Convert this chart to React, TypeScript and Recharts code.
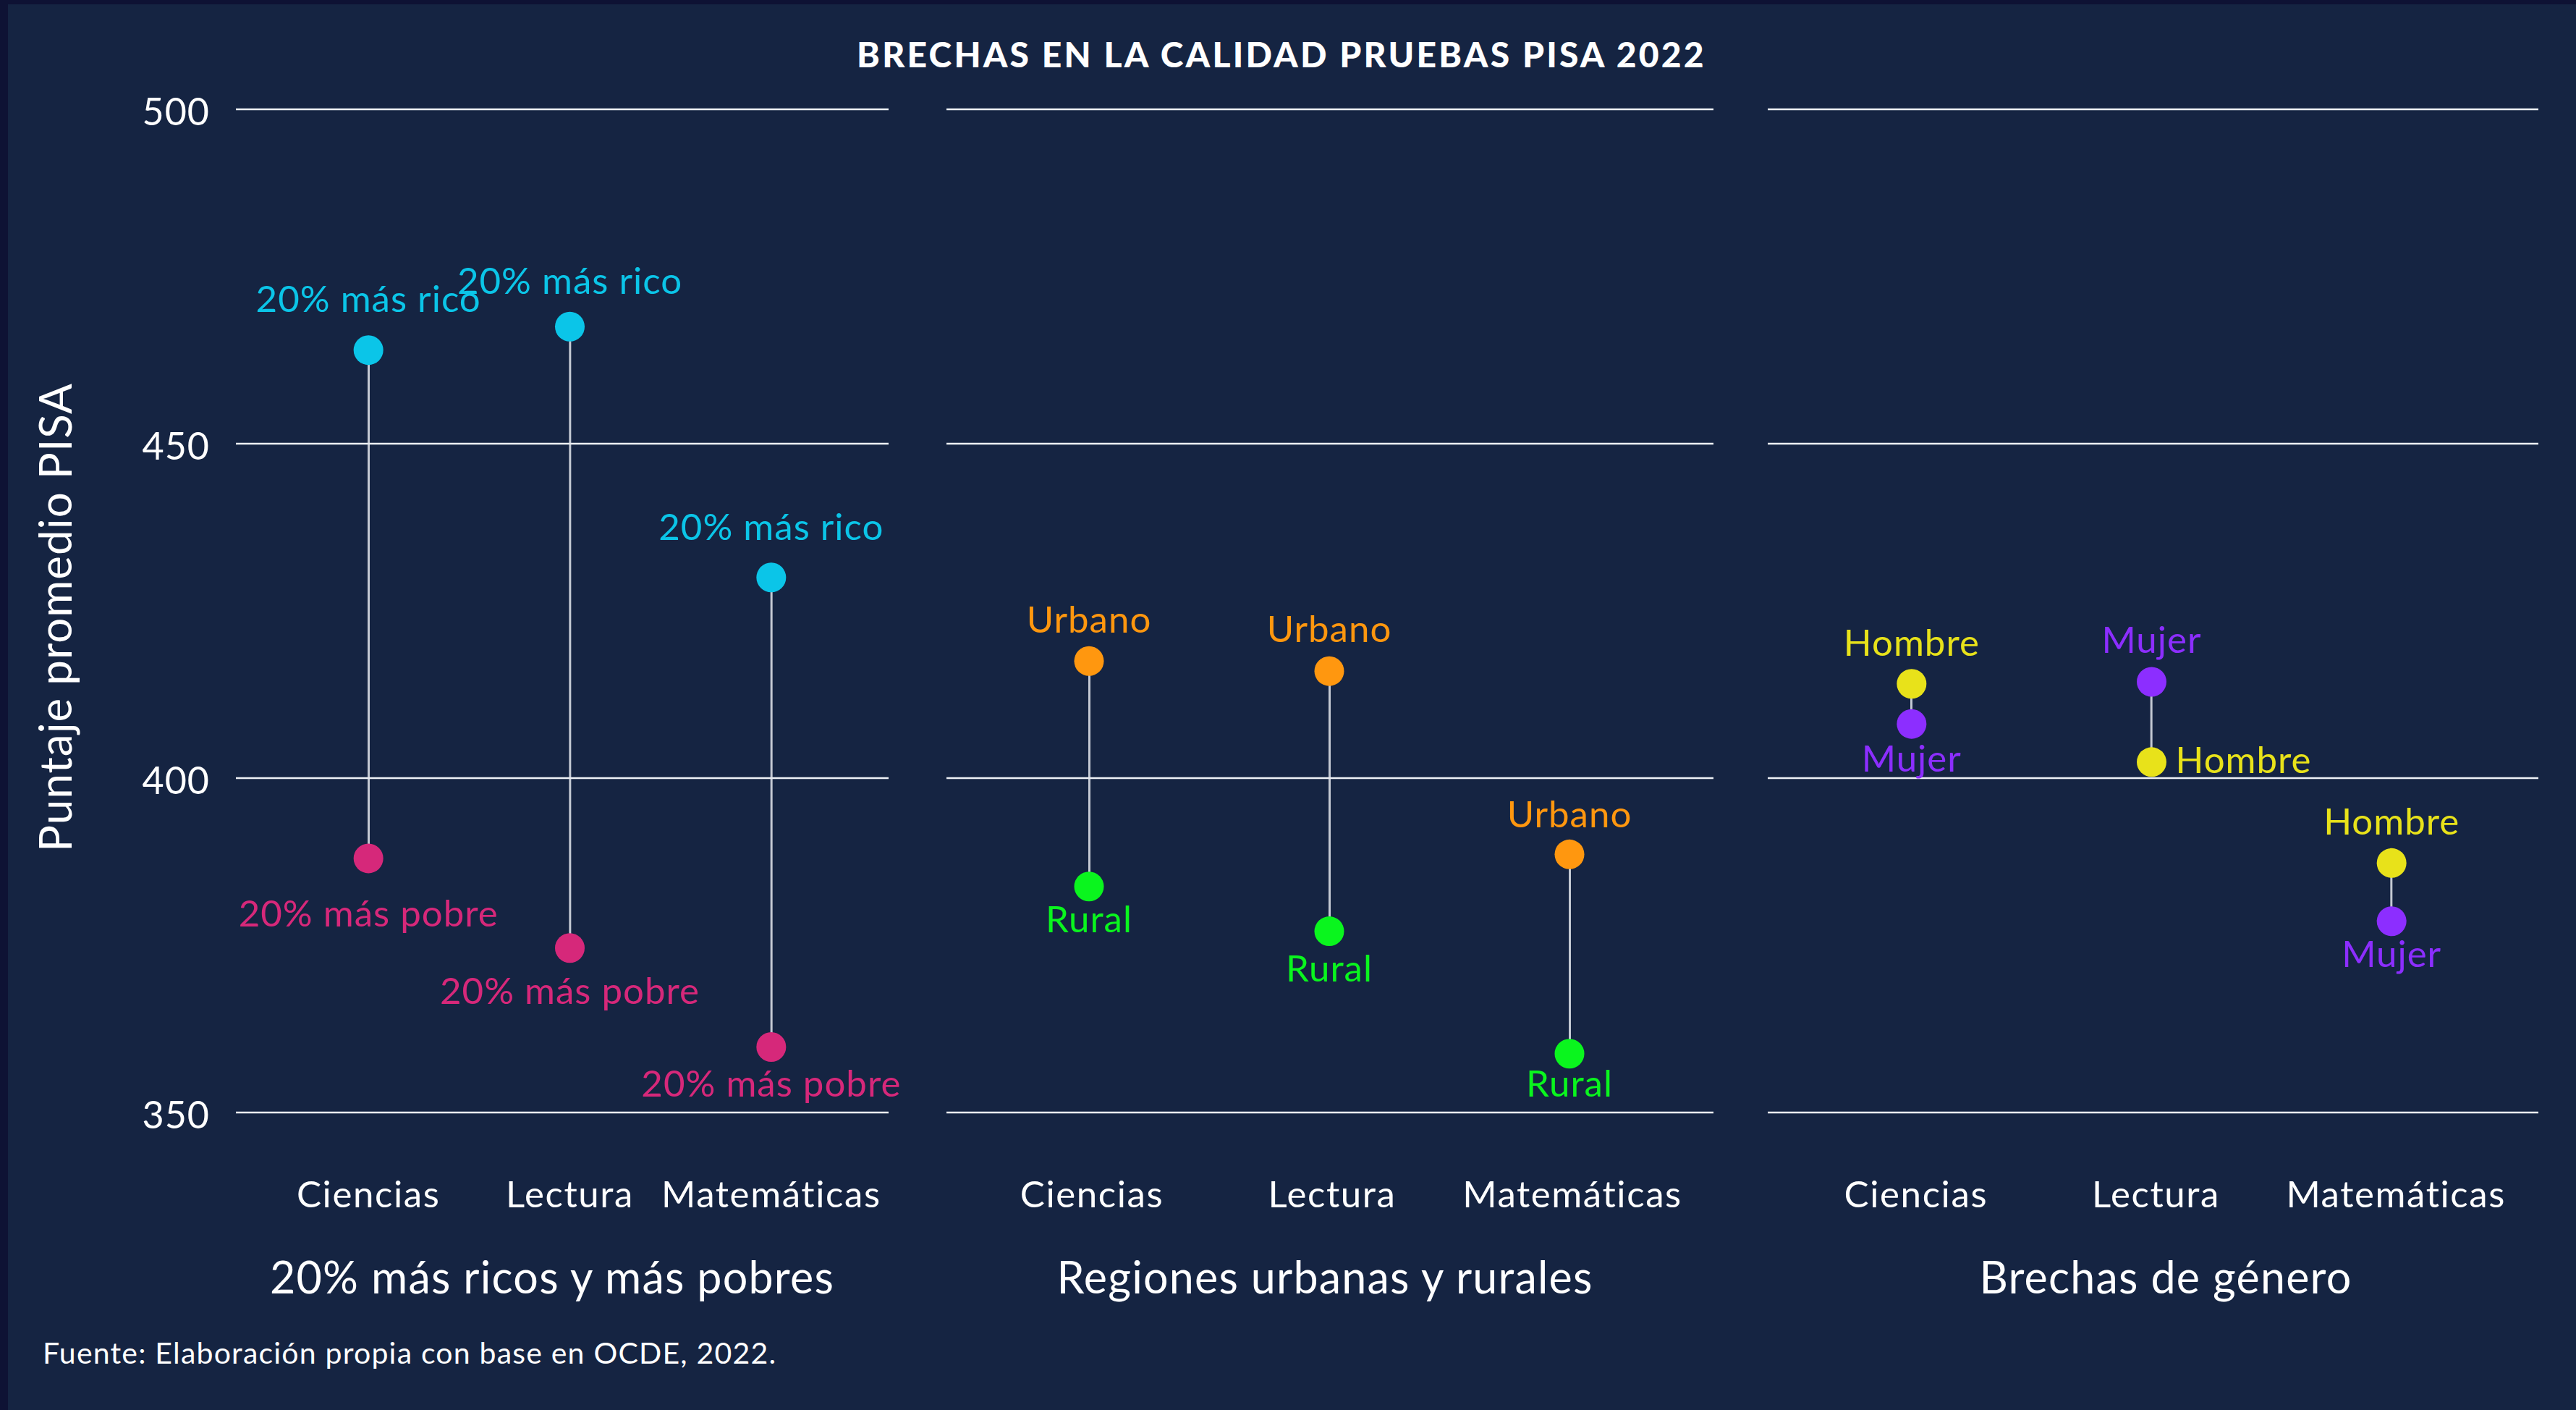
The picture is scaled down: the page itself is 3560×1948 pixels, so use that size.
import React from 'react';
import { ComposedChart, Bar, Line, XAxis, YAxis, CartesianGrid, LabelList } from 'recharts';

// ---------- data ----------
const subjects = ['Ciencias', 'Lectura', 'Matemáticas'];
const yTicks = [350, 400, 450, 500];

const ricoValues = [464, 467.5, 430];
const pobreValues = [388, 374.6, 359.8];
const urbanoValues = [417.5, 416, 388.6];
const ruralValues = [383.8, 377.1, 358.8];
const hombreValues = [414.1, 402.4, 387.3];
const mujerValues = [408.1, 414.4, 378.6];

const panelTitles = ['20% más ricos y más pobres', 'Regiones urbanas y rurales', 'Brechas de género'];
const chartTitle = 'BRECHAS EN LA CALIDAD PRUEBAS PISA 2022';
const yAxisTitle = 'Puntaje promedio PISA';
const sourceNote = 'Fuente: Elaboración propia con base en OCDE, 2022.';

// ---------- layout / style ----------
const FONT = 'Lato, "Noto Sans", sans-serif';
const W = 3560;
const H = 1948;
const PLOT_TOP = 151;
const PLOT_BOTTOM = 1537;
const XAXIS_H = 60;
const YAXIS_W = 200;
const BG = '#152442';
const BORDER = '#0e1234';
const WHITE = '#ffffff';

type LabelPos = { dx: number; dy: number; anchor: 'middle' | 'start' | 'end' };
const up = (dy: number): LabelPos => ({ dx: 0, dy, anchor: 'middle' });

type SeriesCfg = { name: string; color: string; values: number[]; labels: LabelPos[] };
type PanelCfg = {
  left: number;
  width: number;
  plotLeft: number;
  plotRight: number;
  padding: { left: number; right: number };
  showY: boolean;
  title: string;
  titleX: number;
  tickDx: number;
  a: SeriesCfg;
  b: SeriesCfg;
};

const panels: PanelCfg[] = [
  {
    left: 0, width: 1290, plotLeft: 326, plotRight: 1228,
    padding: { left: 44, right: 23 }, showY: true,
    title: panelTitles[0], titleX: 763, tickDx: 0,
    a: { name: '20% más rico', color: '#0bc5e8', values: ricoValues, labels: [up(-53), up(-45), up(-52)] },
    b: { name: '20% más pobre', color: '#d6287a', values: pobreValues, labels: [up(94), up(77), up(69)] },
  },
  {
    left: 1268, width: 1140, plotLeft: 1308, plotRight: 2368,
    padding: { left: 31, right: 33 }, showY: false,
    title: panelTitles[1], titleX: 1831, tickDx: 4,
    a: { name: 'Urbano', color: '#ff970f', values: urbanoValues, labels: [up(-39), up(-40), up(-37)] },
    b: { name: 'Rural', color: '#0af51e', values: ruralValues, labels: [up(63), up(69), up(59)] },
  },
  {
    left: 2403, width: 1157, plotLeft: 2443, plotRight: 3508,
    padding: { left: 33, right: 37 }, showY: false,
    title: panelTitles[2], titleX: 2993, tickDx: 6,
    a: { name: 'Hombre', color: '#e8e21a', values: hombreValues, labels: [up(-39), { dx: 33, dy: 15, anchor: 'start' }, up(-39)] },
    b: { name: 'Mujer', color: '#8c2eff', values: mujerValues, labels: [up(66), up(-40), up(63)] },
  },
];

const makeXTick = (dx: number) => (props: any) => {
  const { x, y, payload } = props;
  return (
    <text x={x + dx} y={y} dy={131} textAnchor="middle" fill={WHITE} fontSize={51} fontFamily={FONT} letterSpacing={1.6}>
      {payload.value}
    </text>
  );
};

const YTick = (props: any) => {
  const { x, y, payload } = props;
  return (
    <text x={x - 36} y={y} dy={22} textAnchor="end" fill={WHITE} fontSize={52} fontFamily={FONT} letterSpacing={1}>
      {payload.value}
    </text>
  );
};

const makeDot = (color: string) => (props: any) => {
  const { cx, cy, index } = props;
  if (cx == null || cy == null) return <g key={index} />;
  return <circle key={`d${index}`} cx={cx} cy={cy} r={20.5} fill={color} />;
};

const makeLabel = (s: SeriesCfg) => (props: any) => {
  const { index } = props;
  const x = props.x ?? props.viewBox?.x;
  const y = props.y ?? props.viewBox?.y;
  const o = s.labels[index] || up(-40);
  return (
    <text key={`l${index}`} x={x + o.dx} y={y + o.dy} textAnchor={o.anchor} fill={s.color} fontSize={51} fontFamily={FONT} letterSpacing={1}>
      {s.name}
    </text>
  );
};

const Panel = ({ p }: { p: PanelCfg }) => {
  const data = subjects.map((subject, i) => ({ subject, a: p.a.values[i], b: p.b.values[i] }));
  const margin = {
    top: PLOT_TOP,
    bottom: H - PLOT_BOTTOM - XAXIS_H,
    left: p.plotLeft - p.left - (p.showY ? YAXIS_W : 0),
    right: p.left + p.width - p.plotRight,
  };
  const XTick = makeXTick(p.tickDx);
  return (
    <div style={{ position: 'absolute', left: p.left, top: 0, width: p.width, height: H }}>
      <ComposedChart width={p.width} height={H} data={data} margin={margin}>
        <CartesianGrid vertical={false} stroke="#eef1f6" strokeWidth={2.5} />
        <XAxis
          dataKey="subject"
          type="category"
          height={XAXIS_H}
          padding={p.padding}
          axisLine={false}
          tickLine={false}
          tickSize={0}
          tickMargin={0}
          interval={0}
          tick={<XTick />}
        />
        <YAxis
          type="number"
          domain={[350, 500]}
          ticks={yTicks}
          hide={!p.showY}
          width={YAXIS_W}
          axisLine={false}
          tickLine={false}
          tickSize={0}
          tickMargin={0}
          tick={<YTick />}
          allowDataOverflow
        />
        <Line dataKey="a" stroke="none" isAnimationActive={false} dot={makeDot(p.a.color)} activeDot={false} legendType="none">
          <LabelList dataKey="a" content={makeLabel(p.a)} />
        </Line>
        <Line dataKey="b" stroke="none" isAnimationActive={false} dot={makeDot(p.b.color)} activeDot={false} legendType="none">
          <LabelList dataKey="b" content={makeLabel(p.b)} />
        </Line>
        <Bar
          dataKey={(d: any) => [Math.min(d.a, d.b), Math.max(d.a, d.b)]}
          barSize={3}
          fill="#e3e6ec"
          fillOpacity={0.85}
          isAnimationActive={false}
          legendType="none"
        />
      </ComposedChart>
    </div>
  );
};

export default function App() {
  return (
    <div style={{ position: 'absolute', left: 0, top: 0, width: W, height: H, background: BORDER, fontFamily: FONT, overflow: 'hidden' }}>
      <div style={{ position: 'absolute', left: 11, top: 6, right: 0, bottom: 0, background: BG }} />
      {panels.map((p, i) => (
        <Panel key={i} p={p} />
      ))}
      <svg width={W} height={H} style={{ position: 'absolute', left: 0, top: 0, pointerEvents: 'none' }}>
        <text x={1771} y={93} textAnchor="middle" fill={WHITE} fontSize={48} fontWeight={900} fontFamily={FONT} letterSpacing={3.2}>
          {chartTitle}
        </text>
        <text
          x={99}
          y={853}
          transform="rotate(-90 99 853)"
          textAnchor="middle"
          fill={WHITE}
          fontSize={62}
          fontFamily={FONT}
          letterSpacing={1}
        >
          {yAxisTitle}
        </text>
        {panels.map((p, i) => (
          <text key={i} x={p.titleX} y={1787} textAnchor="middle" fill={WHITE} fontSize={61} fontFamily={FONT} letterSpacing={1.2}>
            {p.title}
          </text>
        ))}
        <text x={59} y={1884} fill={WHITE} fontSize={41} fontFamily={FONT} letterSpacing={1.2}>
          {sourceNote}
        </text>
      </svg>
    </div>
  );
}
